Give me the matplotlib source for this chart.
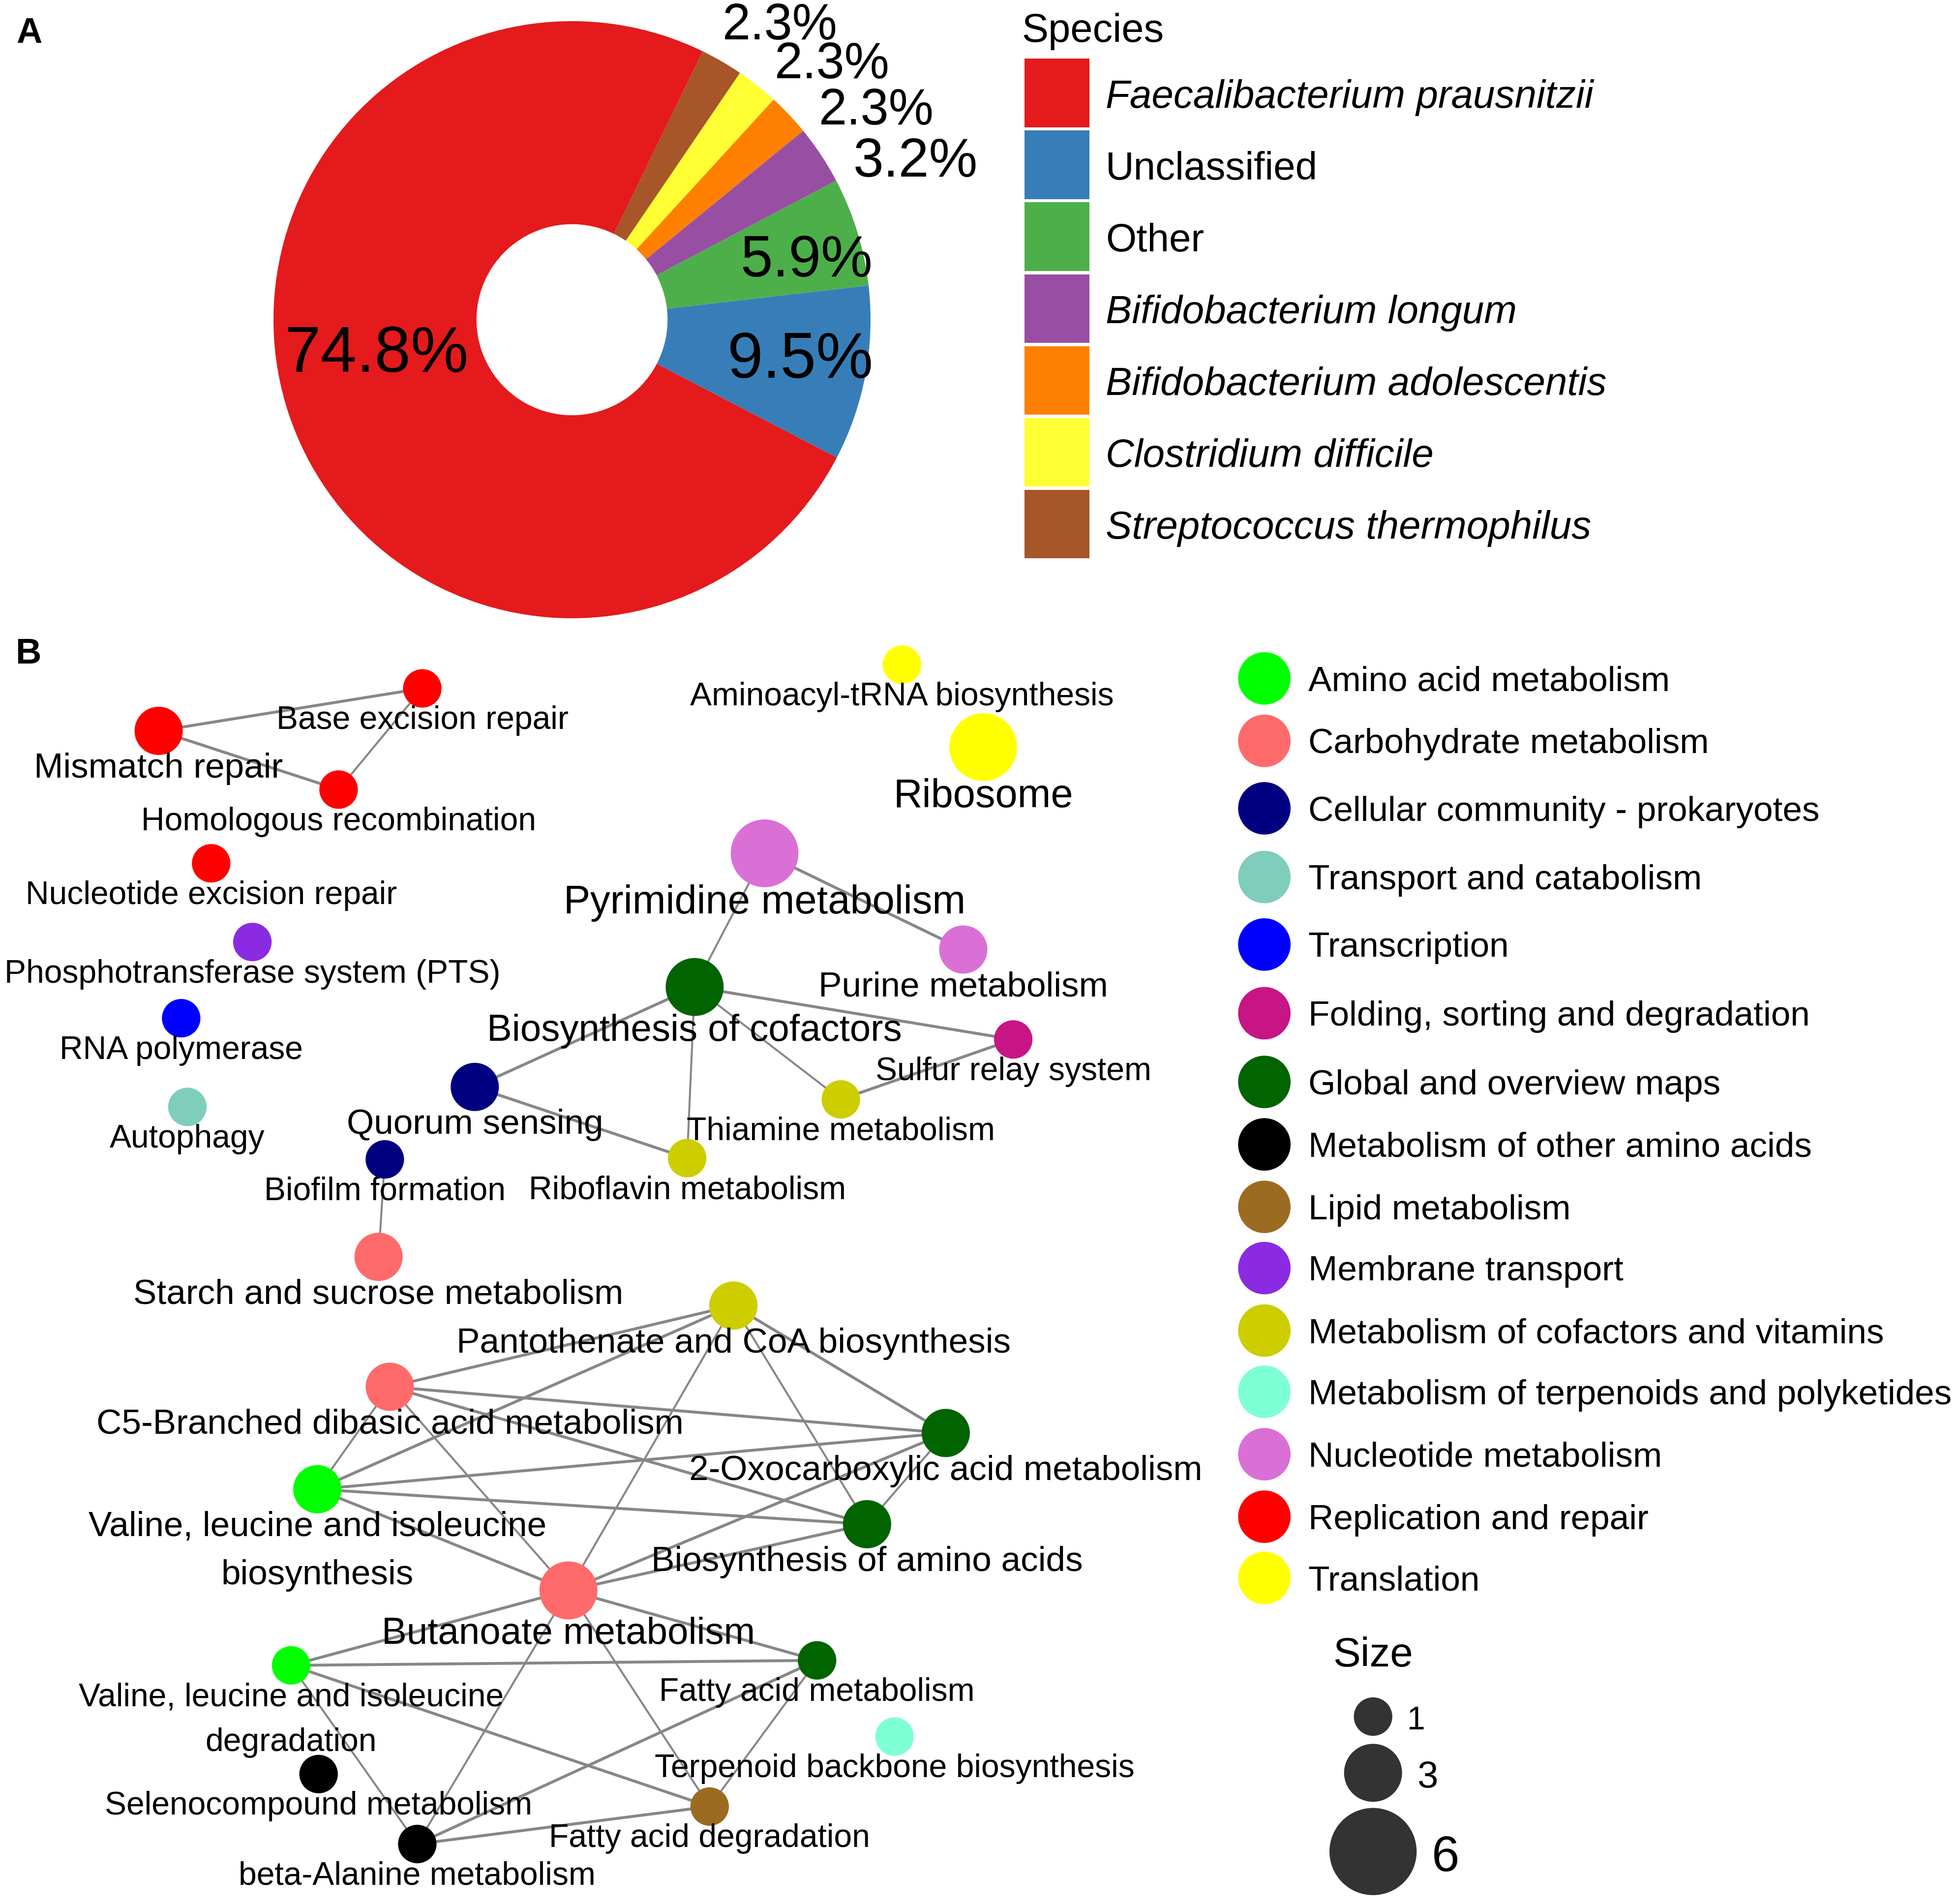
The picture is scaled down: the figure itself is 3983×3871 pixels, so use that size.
import matplotlib
matplotlib.use("Agg")
import matplotlib.pyplot as plt
from matplotlib.patches import Rectangle

plt.rcParams['font.family'] = ['Liberation Sans', 'DejaVu Sans']

# ---------------- data: panel A ----------------
species = ["Faecalibacterium prausnitzii", "Unclassified", "Other",
           "Bifidobacterium longum", "Bifidobacterium adolescentis",
           "Clostridium difficile", "Streptococcus thermophilus"]
species_pct = [74.8, 9.5, 5.9, 3.2, 2.3, 2.3, 2.3]
species_colors = ["#E41A1C", "#377EB8", "#4DAF4A", "#984EA3",
                  "#FF7F00", "#FFFF33", "#A65628"]
species_italic = [True, False, False, True, True, True, True]

# ---------------- data: panel B ----------------
classes = ["Amino acid metabolism", "Carbohydrate metabolism",
           "Cellular community - prokaryotes", "Transport and catabolism",
           "Transcription", "Folding, sorting and degradation",
           "Global and overview maps", "Metabolism of other amino acids",
           "Lipid metabolism", "Membrane transport",
           "Metabolism of cofactors and vitamins",
           "Metabolism of terpenoids and polyketides",
           "Nucleotide metabolism", "Replication and repair", "Translation"]
class_colors = ["#00FF00", "#FF6A6A", "#000080", "#7FCDBB", "#0000FF",
                "#C71585", "#006400", "#000000", "#9C6B22", "#8A2BE2",
                "#CDCD00", "#7FFFD4", "#DA70D6", "#FF0000", "#FFFF00"]

pathways = ["Base excision repair", "Mismatch repair", "Homologous recombination",
            "Nucleotide excision repair", "Phosphotransferase system (PTS)",
            "RNA polymerase", "Autophagy", "Biofilm formation",
            "Starch and sucrose metabolism", "Quorum sensing",
            "Aminoacyl-tRNA biosynthesis", "Ribosome", "Pyrimidine metabolism",
            "Purine metabolism", "Biosynthesis of cofactors", "Sulfur relay system",
            "Thiamine metabolism", "Riboflavin metabolism",
            "Pantothenate and CoA biosynthesis",
            "C5-Branched dibasic acid metabolism",
            "2-Oxocarboxylic acid metabolism",
            "Valine, leucine and isoleucine\nbiosynthesis",
            "Biosynthesis of amino acids", "Butanoate metabolism",
            "Valine, leucine and isoleucine\ndegradation",
            "Fatty acid metabolism", "Terpenoid backbone biosynthesis",
            "Selenocompound metabolism", "Fatty acid degradation",
            "beta-Alanine metabolism"]
pathway_class = [13, 13, 13, 13, 9, 4, 3, 2, 1, 2, 14, 14, 12, 12, 6, 5,
                 10, 10, 10, 1, 6, 0, 6, 1, 0, 6, 11, 7, 8, 7]
pathway_size = [1, 2, 1, 1, 1, 1, 1, 1, 2, 2, 1, 4, 4, 2, 3, 1,
                1, 1, 2, 2, 2, 2, 2, 3, 1, 1, 1, 1, 1, 1]
# layout coordinates of the network nodes
node_x = [338, 127, 271, 169, 202, 145, 150, 308, 303, 380, 722, 787, 612,
          771, 556, 811, 673, 550, 587, 312, 757, 254, 694, 455, 233, 654,
          716, 255, 568, 334]
node_y = [551, 585, 632, 691, 754, 815, 886, 928, 1006, 870, 532, 598, 683,
          760, 790, 832, 880, 927, 1045, 1110, 1147, 1192, 1220, 1273, 1333,
          1329, 1390, 1420, 1446, 1476]

edge_src = [1, 1, 2, 12, 12, 14, 14, 14, 14, 9, 16, 7,
            19, 19, 19, 19, 19, 21, 21, 21, 21, 18, 18, 18, 20, 20, 22,
            23, 23, 23, 23, 24, 24, 24, 25, 25, 29]
edge_dst = [0, 2, 0, 13, 14, 15, 16, 17, 9, 17, 15, 8,
            18, 20, 22, 21, 23, 18, 20, 22, 23, 23, 22, 20, 22, 23, 23,
            24, 25, 28, 29, 25, 28, 29, 28, 29, 28]
edge_weight = [2, 2, 1, 2, 1, 2, 1, 1, 2, 2, 2, 1,
               2, 2, 2, 1, 1, 2, 2, 2, 2, 1, 1, 2, 1, 2, 2,
               2, 2, 1, 1, 2, 2, 1, 1, 2, 2]

size_breaks = [1, 3, 6]

# ---------------- figure ----------------
W, H, DPI = 3983, 3871, 100
fig = plt.figure(figsize=(W / DPI, H / DPI), dpi=DPI)
U = W / 1568.0          # pixels per layout unit
PT = U * 72.0 / DPI     # points per layout unit

ax = fig.add_axes([0, 0, 1, 1])
ax.set_xlim(0, 1568)
ax.set_ylim(1524, 0)
ax.axis('off')


def rad(s):
    return 11.5 + 3.9 * s


def msize(s):
    return (2 * rad(s) * PT) ** 2


def label(x, y, txt, em, **kw):
    # centre the text's cap height on y
    return ax.text(x, y + 0.1 * em, txt, fontsize=em * PT, va='center', **kw)


# panel labels
ax.text(13.2, 34.3, "A", fontsize=28.6 * PT, fontweight='bold', ha='left',
        va='baseline')
ax.text(12.4, 531, "B", fontsize=28.6 * PT, fontweight='bold', ha='left',
        va='baseline')

# ---------------- donut ----------------
cx, cy, R = 1163, 650, 607
pax = fig.add_axes([(cx - R) / W, 1 - (cy + R) / H, 2 * R / W, 2 * R / H])
order = [1, 2, 3, 4, 5, 6, 0]
pax.pie([species_pct[i] for i in order], colors=[species_colors[i] for i in order],
        startangle=-27.5, counterclock=True, radius=1,
        wedgeprops=dict(width=0.68, linewidth=0))
pax.set_xlim(-1, 1)
pax.set_ylim(-1, 1)
pax.set_aspect('equal')
pax.axis('off')

lab_pos = [(-0.655, -0.118), (0.765, -0.138), (0.785, 0.195), (1.15, 0.527),
           (1.02, 0.697), (0.872, 0.852), (0.697, 0.982)]
lab_fs = [95, 94, 85, 80, 74, 74, 74]
for i, p in enumerate(species_pct):
    t = pax.text(lab_pos[i][0], lab_pos[i][1], f"{p}%", fontsize=lab_fs[i],
                 ha='center', va='center')
    t.set_clip_on(False)

# species legend
label(818, 22, "Species", 32, ha='left')
for i, name in enumerate(species):
    top = 47 + i * 57.5
    ax.add_patch(Rectangle((820, top), 52, 55, facecolor=species_colors[i],
                           edgecolor='none'))
    label(885, top + 28, name, 31.5, ha='left',
          style='italic' if species_italic[i] else 'normal')

# ---------------- network ----------------
for s, d, w in zip(edge_src, edge_dst, edge_weight):
    ax.plot([node_x[s], node_x[d]], [node_y[s], node_y[d]], color='#878787',
            lw=(2.3 if w == 2 else 1.6) * PT, zorder=1, solid_capstyle='butt')

ax.scatter(node_x, node_y, s=[msize(v) for v in pathway_size],
           c=[class_colors[c] for c in pathway_class], edgecolors='none',
           zorder=2)

for name, x, y, s in zip(pathways, node_x, node_y, pathway_size):
    em = 24 + 2 * s
    off = rad(s) + 0.3 * em
    for j, line in enumerate(name.split("\n")):
        t = label(x, y + off + j * 1.38 * em, line, em, ha='center')
        t.set_zorder(3)

# class legend
leg_y = [543, 593, 647, 702, 756, 811, 866, 916, 966, 1015, 1065, 1114,
         1164, 1214, 1263]
ax.scatter([1012] * len(classes), leg_y, s=(2 * 21 * PT) ** 2, c=class_colors,
           edgecolors='none')
for name, y in zip(classes, leg_y):
    label(1047, y, name, 28, ha='left')

# size legend
label(1067, 1322, "Size", 33, ha='left')
sz_y = [1374, 1419, 1482]
sz_fs = [26, 30, 40]
for b, y, f in zip(size_breaks, sz_y, sz_fs):
    ax.scatter([1099], [y], s=msize(b), c='#333333', edgecolors='none')
    label(1099 + rad(b) + 12, y + 1, str(b), f, ha='left')

fig.savefig("out.png", dpi=DPI)
